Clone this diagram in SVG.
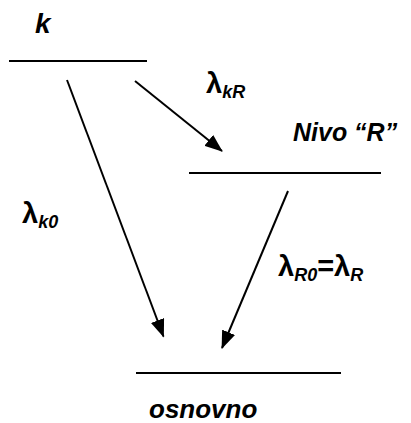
<svg xmlns="http://www.w3.org/2000/svg" width="411" height="423" viewBox="0 0 411 423">
<style>
.lvl{stroke:#000;stroke-width:2;fill:none}
.arr{stroke:#000;stroke-width:2;fill:none;marker-end:url(#ah)}
.t{font-family:"Liberation Sans",Arial,sans-serif;font-weight:bold;font-style:italic;fill:#000}
.lam{font-family:"Liberation Sans",Arial,sans-serif;font-weight:bold;fill:#000}
.sub{font-family:"Liberation Sans",Arial,sans-serif;font-weight:bold;font-style:italic;font-size:18px}
</style>
<defs>
<marker id="ah" markerWidth="18" markerHeight="14" refX="17" refY="7" orient="auto" markerUnits="userSpaceOnUse">
<path d="M0,0 L18,7 L0,14 Z" fill="#000"/>
</marker>
</defs>
<g id="level-k">
<line class="lvl" x1="9" y1="61" x2="147" y2="61"/>
<text class="t" x="35" y="33" font-size="28">k</text>
</g>
<g id="level-R">
<line class="lvl" x1="189" y1="173" x2="381" y2="173"/>
<text class="t" x="293" y="141" font-size="25">Nivo “R”</text>
</g>
<g id="level-0">
<line class="lvl" x1="136" y1="373" x2="341" y2="373"/>
<text class="t" x="149" y="418" font-size="26">osnovno</text>
</g>
<g id="connectors">
<line class="arr" x1="67" y1="80" x2="163.5" y2="336.5"/>
<line class="arr" x1="135" y1="81" x2="222" y2="151"/>
<line class="arr" x1="288" y1="191" x2="222" y2="348"/>
</g>
<g id="labels">
<text class="lam" x="206" y="93" font-size="29">λ<tspan class="sub" dy="5">kR</tspan></text>
<text class="lam" x="22" y="223" font-size="29">λ<tspan class="sub" dy="5">k0</tspan></text>
<text class="lam" x="278" y="276" font-size="29">λ<tspan class="sub" dy="5">R0</tspan><tspan dy="-5">=λ</tspan><tspan class="sub" dy="5">R</tspan></text>
</g>
</svg>
